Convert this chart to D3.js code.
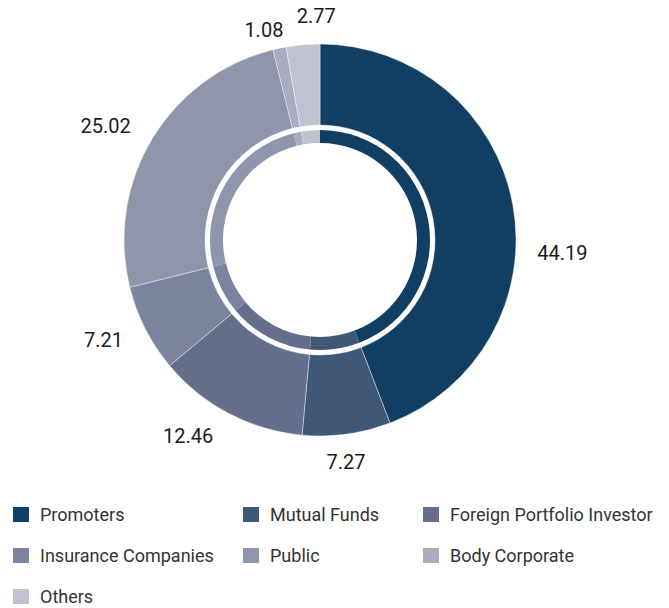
<!DOCTYPE html>
<html>
<head>
<meta charset="utf-8">
<script src="https://cdn.jsdelivr.net/npm/d3@7"></script>
<style>
  html, body { margin: 0; padding: 0; background: #fff; }
  svg { display: block; font-family: Roboto, "Noto Sans", sans-serif; }
</style>
</head>
<body>
<svg id="chart" width="669" height="608"></svg>
<script>
// Shareholding pattern (%)
const categories = ["Promoters", "Mutual Funds", "Foreign Portfolio Investor",
  "Insurance Companies", "Public", "Body Corporate", "Others"];
const shares = [44.19, 7.27, 12.46, 7.21, 25.02, 1.08, 2.77];
const palette = ["#103f63", "#3f5878", "#656f8c", "#7b839e", "#8f95ab", "#a9abbf", "#c0c2d1"];

const svg = d3.select("#chart");
const cx = 320, cy = 240;
const outerR = 196, outerInner = 115, ringOuter = 110, ringInner = 97, labelR = 221;

const data = categories.map((c, i) => ({ name: c, value: shares[i], color: palette[i] }));
const pie = d3.pie().value(d => d.value).sort(null);
const arcs = pie(data);

const g = svg.append("g").attr("transform", `translate(${cx},${cy})`);

// main ring
g.selectAll("path.outer").data(arcs).join("path")
  .attr("class", "outer")
  .attr("d", d3.arc().innerRadius(outerInner).outerRadius(outerR))
  .attr("fill", d => d.data.color)
  .attr("stroke", "#fff").attr("stroke-opacity", 0.5).attr("stroke-width", 0.8);

// thin inner ring with the same split
g.selectAll("path.inner").data(arcs).join("path")
  .attr("class", "inner")
  .attr("d", d3.arc().innerRadius(ringInner).outerRadius(ringOuter))
  .attr("fill", d => d.data.color);

// value labels around the ring
const labelNudge = {
  "Promoters": [0, 53], "Mutual Funds": [-4, 3], "Foreign Portfolio Investor": [-4, 0],
  "Body Corporate": [9, 6], "Others": [-4, -4]
};
g.selectAll("text.val").data(arcs).join("text")
  .attr("class", "val")
  .each(function (d) {
    const a = (d.startAngle + d.endAngle) / 2;
    const n = labelNudge[d.data.name] || [0, 0];
    const x = labelR * Math.sin(a) + n[0];
    const y = -labelR * Math.cos(a) + n[1];
    let anchor = Math.sin(a) >= 0 ? "start" : "end";
    if (d.data.name === "Mutual Funds") anchor = "middle";
    if (d.data.name === "Others") anchor = "start";
    d3.select(this).attr("x", x).attr("y", y).attr("text-anchor", anchor);
  })
  .attr("dy", "0.35em")
  .attr("font-size", 20)
  .attr("fill", "#1a1a1a")
  .text(d => d3.format(".2f")(d.data.value));

// legend
const colX = [13, 243, 423];
const rowY = [507, 548, 589];
const legend = svg.selectAll("g.leg").data(data).join("g")
  .attr("class", "leg")
  .attr("transform", (d, i) => `translate(${colX[i % 3]},${rowY[Math.floor(i / 3)]})`);
legend.append("rect").attr("width", 16).attr("height", 15).attr("fill", d => d.color);
legend.append("text").attr("x", 27).attr("y", 8).attr("dy", "0.35em")
  .attr("font-size", 18).attr("fill", "#333").text(d => d.name);
</script>
</body>
</html>
